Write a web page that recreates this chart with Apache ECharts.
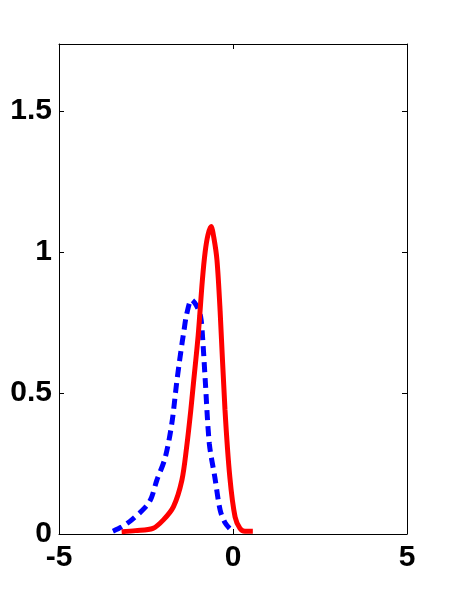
<!DOCTYPE html>
<html>
<head>
<meta charset="utf-8">
<script src="https://cdn.jsdelivr.net/npm/echarts@6/dist/echarts.min.js"></script>
<style>html,body{margin:0;padding:0;background:#fff}#c{width:450px;height:600px}</style>
</head>
<body>
<div id="c"></div>
<script>
// Solid red curve
const redX = [-3.2, -2.8, -2.3, -2.0, -1.71, -1.47, -1.33, -1.22, -1.14, -1.0, -0.88, -0.8, -0.72, -0.63, -0.55, -0.46, -0.37, -0.23, -0.09, 0.06, 0.2, 0.34, 0.57];
const redY = [0.008, 0.012, 0.02, 0.05, 0.097, 0.19, 0.31, 0.43, 0.53, 0.705, 0.9, 1.0, 1.06, 1.09, 1.05, 0.97, 0.79, 0.44, 0.2, 0.06, 0.02, 0.01, 0.01];
// Dashed blue curve
const blueX = [-3.45, -3.2, -2.91, -2.48, -2.34, -2.19, -1.95, -1.76, -1.62, -1.54, -1.46, -1.41, -1.33, -1.19, -1.05, -0.93, -0.87, -0.8, -0.68, -0.52, -0.37, -0.23, -0.1, 0.0];
const blueY = [0.01, 0.025, 0.05, 0.10, 0.13, 0.19, 0.27, 0.39, 0.535, 0.61, 0.68, 0.72, 0.78, 0.83, 0.81, 0.77, 0.69, 0.55, 0.32, 0.20, 0.085, 0.04, 0.02, 0.01];
// Axis ticks
const xTicks = [-5, 0, 5];
const yTicks = [0, 0.5, 1, 1.5];
const xMin = -5, xMax = 5, yMin = 0, yMax = 1.737;

const pair = (xs, ys) => xs.map((x, i) => [x, ys[i]]);
const font = {fontFamily: 'Liberation Sans, Arial, sans-serif', fontWeight: 'bold', fontSize: 30, color: '#000'};
const line = {show: true, onZero: false, lineStyle: {color: '#000', width: 1}};
const tick = {show: true, inside: true, length: 5, lineStyle: {color: '#000', width: 1}};

const chart = echarts.init(document.getElementById('c'), null, {renderer: 'canvas'});
chart.setOption({
  animation: false,
  backgroundColor: '#fff',
  grid: {left: 59, right: 43, top: 44, bottom: 66, containLabel: false},
  xAxis: [
    {type: 'value', min: xMin, max: xMax, interval: 5, position: 'bottom',
     axisLine: line, axisTick: tick, splitLine: {show: false},
     axisLabel: Object.assign({margin: 9, formatter: v => xTicks.includes(v) ? String(v) : ''}, font)},
    {type: 'value', min: xMin, max: xMax, interval: 5, position: 'top',
     axisLine: line, axisTick: tick, splitLine: {show: false}, axisLabel: {show: false}}
  ],
  yAxis: [
    {type: 'value', min: yMin, max: yMax, interval: 0.5, position: 'left',
     axisLine: line, axisTick: tick, splitLine: {show: false},
     axisLabel: Object.assign({margin: 7, showMaxLabel: false, formatter: v => yTicks.includes(v) ? String(v) : ''}, font)},
    {type: 'value', min: yMin, max: yMax, interval: 0.5, position: 'right',
     axisLine: line, axisTick: tick, splitLine: {show: false}, axisLabel: {show: false}}
  ],
  series: [
    {type: 'line', data: pair(blueX, blueY), showSymbol: false, smooth: 0.3,
     lineStyle: {color: '#0000ff', width: 5, type: [10, 6]}, z: 2},
    {type: 'line', data: pair(redX, redY), showSymbol: false, smooth: 0.3,
     lineStyle: {color: '#ff0000', width: 5, type: 'solid'}, z: 3}
  ]
});
</script>
</body>
</html>
